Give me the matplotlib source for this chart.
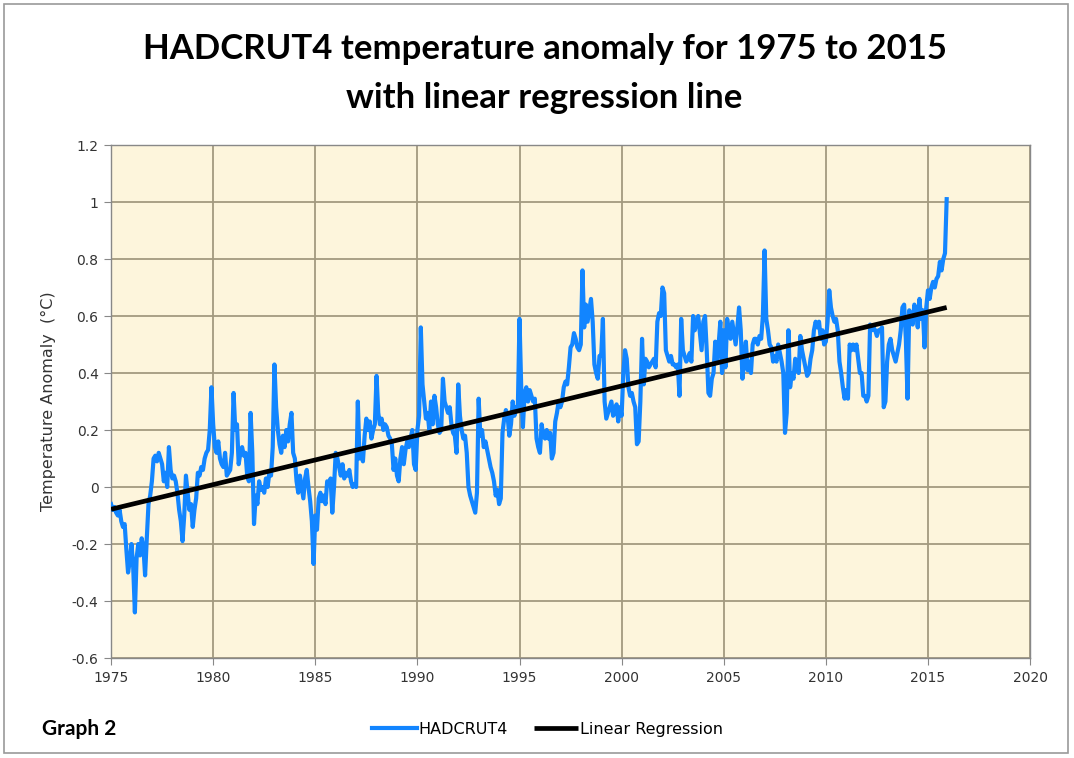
import numpy as np
import matplotlib
matplotlib.use("Agg")
import matplotlib.pyplot as plt
from matplotlib.patches import Rectangle

# HADCRUT4 monthly anomaly (degC), Jan 1975 .. Dec 2015
start_year = 1975
hadcrut4 = [
    -0.06, -0.08, -0.07, -0.09, -0.10, -0.08, -0.12, -0.14, -0.13, -0.22, -0.30, -0.26,  # 1975
    -0.20, -0.28, -0.44, -0.25, -0.20, -0.24, -0.18, -0.21, -0.31, -0.18, -0.06, -0.03,  # 1976
    0.02, 0.10, 0.11, 0.09, 0.12, 0.10, 0.08, 0.02, 0.05, 0.00, 0.14, 0.06,  # 1977
    0.03, 0.04, 0.02, -0.02, -0.08, -0.12, -0.19, -0.10, 0.04, -0.02, -0.08, -0.06,  # 1978
    -0.14, -0.08, -0.04, 0.05, 0.04, 0.07, 0.06, 0.10, 0.12, 0.13, 0.20, 0.35,  # 1979
    0.22, 0.14, 0.12, 0.16, 0.10, 0.08, 0.07, 0.12, 0.04, 0.05, 0.06, 0.12,  # 1980
    0.33, 0.20, 0.22, 0.08, 0.12, 0.14, 0.11, 0.12, 0.04, 0.02, 0.26, 0.12,  # 1981
    -0.13, -0.03, -0.06, 0.02, -0.01, 0.00, -0.02, 0.03, 0.00, 0.05, 0.04, 0.14,  # 1982
    0.43, 0.28, 0.20, 0.15, 0.12, 0.18, 0.14, 0.20, 0.16, 0.22, 0.26, 0.12,  # 1983
    0.10, 0.02, -0.02, 0.04, 0.00, -0.04, 0.03, 0.06, 0.00, -0.05, -0.12, -0.27,  # 1984
    -0.10, -0.15, -0.04, -0.02, -0.05, -0.03, -0.06, 0.02, 0.01, 0.03, -0.09, 0.00,  # 1985
    0.12, 0.10, 0.07, 0.04, 0.08, 0.03, 0.05, 0.04, 0.06, 0.02, 0.00, 0.01,  # 1986
    0.00, 0.30, 0.10, 0.12, 0.09, 0.18, 0.24, 0.20, 0.23, 0.17, 0.20, 0.22,  # 1987
    0.39, 0.26, 0.22, 0.24, 0.20, 0.22, 0.21, 0.18, 0.17, 0.15, 0.06, 0.10,  # 1988
    0.04, 0.02, 0.10, 0.14, 0.08, 0.13, 0.16, 0.14, 0.17, 0.20, 0.08, 0.06,  # 1989
    0.20, 0.25, 0.56, 0.36, 0.30, 0.24, 0.26, 0.20, 0.30, 0.22, 0.32, 0.28,  # 1990
    0.22, 0.19, 0.20, 0.38, 0.30, 0.28, 0.26, 0.28, 0.22, 0.19, 0.18, 0.12,  # 1991
    0.36, 0.25, 0.20, 0.17, 0.18, 0.12, 0.00, -0.03, -0.05, -0.07, -0.09, -0.02,  # 1992
    0.31, 0.18, 0.20, 0.14, 0.16, 0.13, 0.10, 0.07, 0.05, 0.02, -0.03, -0.01,  # 1993
    -0.06, -0.04, 0.19, 0.24, 0.27, 0.25, 0.18, 0.22, 0.30, 0.25, 0.28, 0.27,  # 1994
    0.59, 0.35, 0.21, 0.33, 0.35, 0.30, 0.34, 0.32, 0.30, 0.31, 0.17, 0.14,  # 1995
    0.12, 0.22, 0.18, 0.17, 0.20, 0.17, 0.19, 0.10, 0.12, 0.23, 0.26, 0.30,  # 1996
    0.28, 0.30, 0.35, 0.37, 0.36, 0.42, 0.49, 0.50, 0.54, 0.52, 0.49, 0.48,  # 1997
    0.50, 0.76, 0.56, 0.64, 0.58, 0.62, 0.66, 0.58, 0.43, 0.40, 0.38, 0.46,  # 1998
    0.46, 0.59, 0.30, 0.24, 0.26, 0.28, 0.30, 0.25, 0.26, 0.29, 0.23, 0.28,  # 1999
    0.25, 0.40, 0.48, 0.45, 0.35, 0.32, 0.33, 0.30, 0.28, 0.15, 0.16, 0.30,  # 2000
    0.52, 0.36, 0.45, 0.44, 0.42, 0.43, 0.44, 0.45, 0.42, 0.58, 0.61, 0.60,  # 2001
    0.70, 0.68, 0.48, 0.46, 0.44, 0.46, 0.43, 0.43, 0.42, 0.43, 0.32, 0.59,  # 2002
    0.48, 0.46, 0.44, 0.45, 0.47, 0.44, 0.60, 0.55, 0.58, 0.60, 0.54, 0.48,  # 2003
    0.58, 0.60, 0.48, 0.33, 0.32, 0.38, 0.40, 0.51, 0.44, 0.50, 0.58, 0.40,  # 2004
    0.55, 0.42, 0.59, 0.55, 0.52, 0.58, 0.54, 0.50, 0.56, 0.63, 0.55, 0.38,  # 2005
    0.45, 0.51, 0.41, 0.44, 0.40, 0.50, 0.52, 0.52, 0.50, 0.53, 0.52, 0.60,  # 2006
    0.83, 0.59, 0.55, 0.50, 0.49, 0.44, 0.46, 0.44, 0.50, 0.47, 0.44, 0.40,  # 2007
    0.19, 0.26, 0.55, 0.35, 0.40, 0.38, 0.45, 0.44, 0.40, 0.53, 0.48, 0.45,  # 2008
    0.42, 0.39, 0.40, 0.45, 0.48, 0.55, 0.58, 0.56, 0.58, 0.52, 0.55, 0.50,  # 2009
    0.51, 0.58, 0.69, 0.63, 0.60, 0.58, 0.59, 0.55, 0.44, 0.40, 0.35, 0.31,  # 2010
    0.34, 0.31, 0.50, 0.48, 0.50, 0.48, 0.50, 0.45, 0.40, 0.40, 0.32, 0.32,  # 2011
    0.30, 0.32, 0.57, 0.55, 0.56, 0.55, 0.53, 0.55, 0.55, 0.56, 0.28, 0.30,  # 2012
    0.44, 0.50, 0.52, 0.48, 0.46, 0.44, 0.47, 0.50, 0.55, 0.63, 0.64, 0.52,  # 2013
    0.31, 0.62, 0.60, 0.57, 0.64, 0.62, 0.56, 0.66, 0.59, 0.62, 0.49, 0.63,  # 2014
    0.69, 0.66, 0.70, 0.72, 0.70, 0.73, 0.74, 0.79, 0.76, 0.80, 0.82, 1.01,  # 2015
]
x_ticks = [1975, 1980, 1985, 1990, 1995, 2000, 2005, 2010, 2015, 2020]
y_ticks = [-0.6, -0.4, -0.2, 0, 0.2, 0.4, 0.6, 0.8, 1, 1.2]
y_tick_labels = ["-0.6", "-0.4", "-0.2", "0", "0.2", "0.4", "0.6", "0.8", "1", "1.2"]

anom = np.array(hadcrut4)
t = start_year + np.arange(len(anom)) / 12.0

# 線形回帰
coef = np.polyfit(t, anom, 1)
fit = np.polyval(coef, t[[0, -1]])

fig = plt.figure(figsize=(10.74, 7.58), dpi=100)
ax = fig.add_axes([0.1034, 0.1319, 0.8557, 0.6768])
ax.set_facecolor("#FDF5DC")

grid_c = "#A39A80"
for xv in x_ticks:
    ax.axvline(xv, color=grid_c, lw=1.3, zorder=1)
for yv in y_ticks:
    ax.axhline(yv, color=grid_c, lw=1.3, zorder=1)

ax.plot(t, anom, color="#1285FF", lw=3.0, label="HADCRUT4", zorder=3,
        solid_joinstyle="round")
ax.plot(t[[0, -1]], fit, color="black", lw=3.4, label="Linear Regression",
        zorder=4, solid_capstyle="butt")

ax.set_xlim(1975, 2020)
ax.set_ylim(-0.6, 1.2)
ax.set_xticks(x_ticks)
ax.set_xticklabels([str(v) for v in x_ticks])
ax.set_yticks(y_ticks)
ax.set_yticklabels(y_tick_labels)
ax.tick_params(axis="both", direction="out", length=5, color="#888888",
               labelsize=10, labelcolor="#333333", pad=4)
for s in ax.spines.values():
    s.set_color("#888888")
    s.set_linewidth(1.0)

ax.set_ylabel("Temperature Anomaly  (°C)", fontsize=11.5, color="#333333",
              labelpad=11)

fig.text(0.507, 0.936, "HADCRUT4 temperature anomaly for 1975 to 2015",
         ha="center", va="center", fontsize=25, fontweight="bold",
         family="Lato")
fig.text(0.507, 0.871, "with linear regression line",
         ha="center", va="center", fontsize=25, fontweight="bold",
         family="Lato")
fig.text(0.039, 0.038, "Graph 2", ha="left", va="center", fontsize=15,
         fontweight="bold", family="Lato")

fig.legend(loc="center", bbox_to_anchor=(0.51, 0.038), ncol=2, frameon=False,
           fontsize=11.5, handlelength=2.8, handletextpad=0.1, columnspacing=1.6)

fig.patches.append(Rectangle((0.004, 0.007), 0.99, 0.988, transform=fig.transFigure,
                             fill=False, edgecolor="#9A9A9A", lw=1.2))

plt.savefig("out.png", dpi=100)
